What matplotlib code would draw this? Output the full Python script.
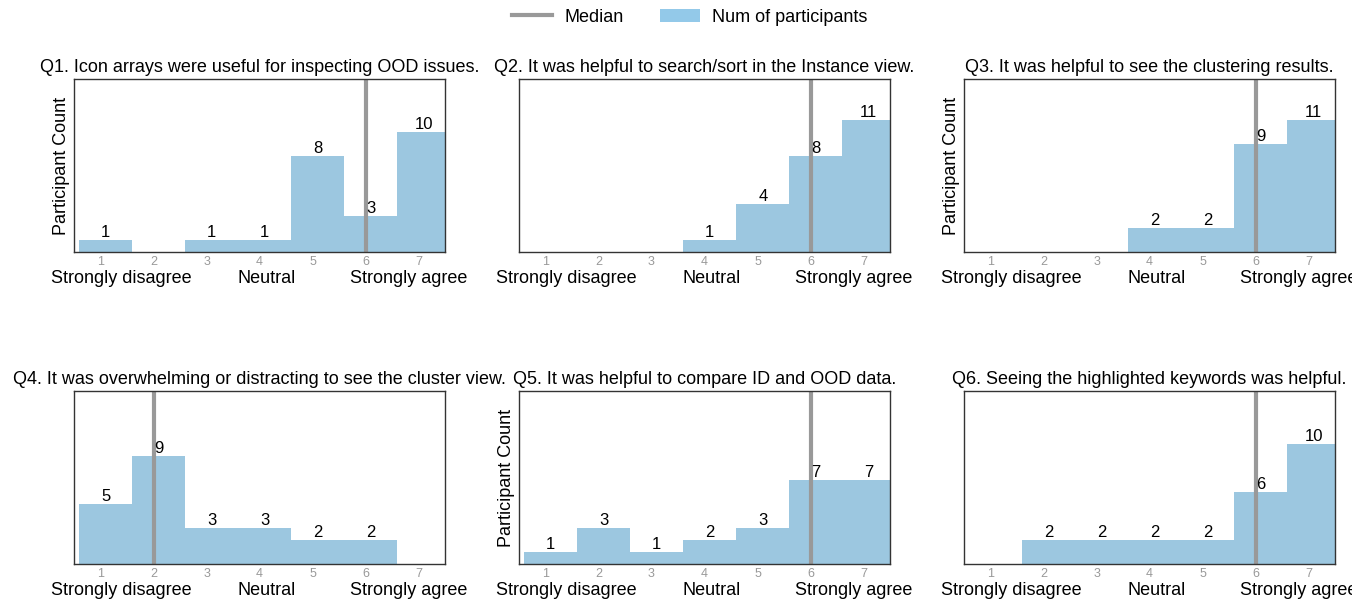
import matplotlib
matplotlib.use("Agg")
import matplotlib.pyplot as plt
from matplotlib.lines import Line2D
from matplotlib.patches import Patch
from matplotlib.transforms import Bbox

plt.rcParams['font.family'] = ['Liberation Sans', 'DejaVu Sans']

scale = [1, 2, 3, 4, 5, 6, 7]
titles = [
    "Q1. Icon arrays were useful for inspecting OOD issues.",
    "Q2. It was helpful to search/sort in the Instance view.",
    "Q3. It was helpful to see the clustering results.",
    "Q4. It was overwhelming or distracting to see the cluster view.",
    "Q5. It was helpful to compare ID and OOD data.",
    "Q6. Seeing the highlighted keywords was helpful.",
]
q1 = [1, 0, 1, 1, 8, 3, 10]
q2 = [0, 0, 0, 1, 4, 8, 11]
q3 = [0, 0, 0, 2, 2, 9, 11]
q4 = [5, 9, 3, 3, 2, 2, 0]
q5 = [1, 3, 1, 2, 3, 7, 7]
q6 = [0, 2, 2, 2, 2, 6, 10]
counts = [q1, q2, q3, q4, q5, q6]
medians = [6, 6, 6, 2, 6, 6]
show_ylabel = [True, False, True, False, True, False]
anchor_labels = ["Strongly disagree", "Neutral", "Strongly agree"]
anchor_pos = [1.39, 4.13, 6.82]

BAR = '#9cc7e0'
LEG_BAR = '#93c9e9'
MED = '#999999'

W, H = 1366, 605
fig = plt.figure(figsize=(W / 100, H / 100), dpi=100)

lefts = [74, 519, 964]
tops = [79, 391]
aw, ah = 371, 173

for i in range(6):
    r, c = divmod(i, 3)
    ax = fig.add_axes([lefts[c] / W, 1 - (tops[r] + ah) / H, aw / W, ah / H])
    vals = counts[i]
    ax.bar([s + 0.1 for s in scale], vals, width=1.0, color=BAR, linewidth=0, zorder=1)
    ax.axvline(medians[i], color=MED, lw=3, zorder=2)
    for s, v in zip(scale, vals):
        if v > 0:
            ax.text(s + 0.1, v, str(v), ha='center', va='bottom', fontsize=12, zorder=3)
    ax.set_xlim(0.5, 7.5)
    ax.set_ylim(0, 14.4)
    ax.set_xticks(scale)
    ax.set_xticklabels([str(s) for s in scale])
    ax.tick_params(axis='x', length=0, labelsize=9, labelcolor='#999999', pad=3)
    ax.set_yticks([])
    for sp in ax.spines.values():
        sp.set_color('#333333')
        sp.set_linewidth(1)
    ax.set_title(titles[i], fontsize=13, pad=5)
    if show_ylabel[i]:
        ax.set_ylabel("Participant Count", fontsize=13, labelpad=3)
    for lab, xp in zip(anchor_labels, anchor_pos):
        t = ax.text(xp, -0.155, lab, ha='center', va='center', fontsize=13,
                    transform=ax.get_xaxis_transform())
        if c == 2:
            t.set_clip_on(True)
            t.set_clip_box(Bbox([[0, 0], [1352, H]]))

handles = [Line2D([0], [0], color=MED, lw=3),
           Patch(facecolor=LEG_BAR, edgecolor='none')]
fig.legend(handles, ["Median", "Num of participants"], loc='center',
           bbox_to_anchor=(0.505, 1 - 17 / H), ncol=2, frameon=False,
           fontsize=13, handlelength=2.2, columnspacing=2.0, handletextpad=0.7)

fig.savefig("out.png", dpi=100)
